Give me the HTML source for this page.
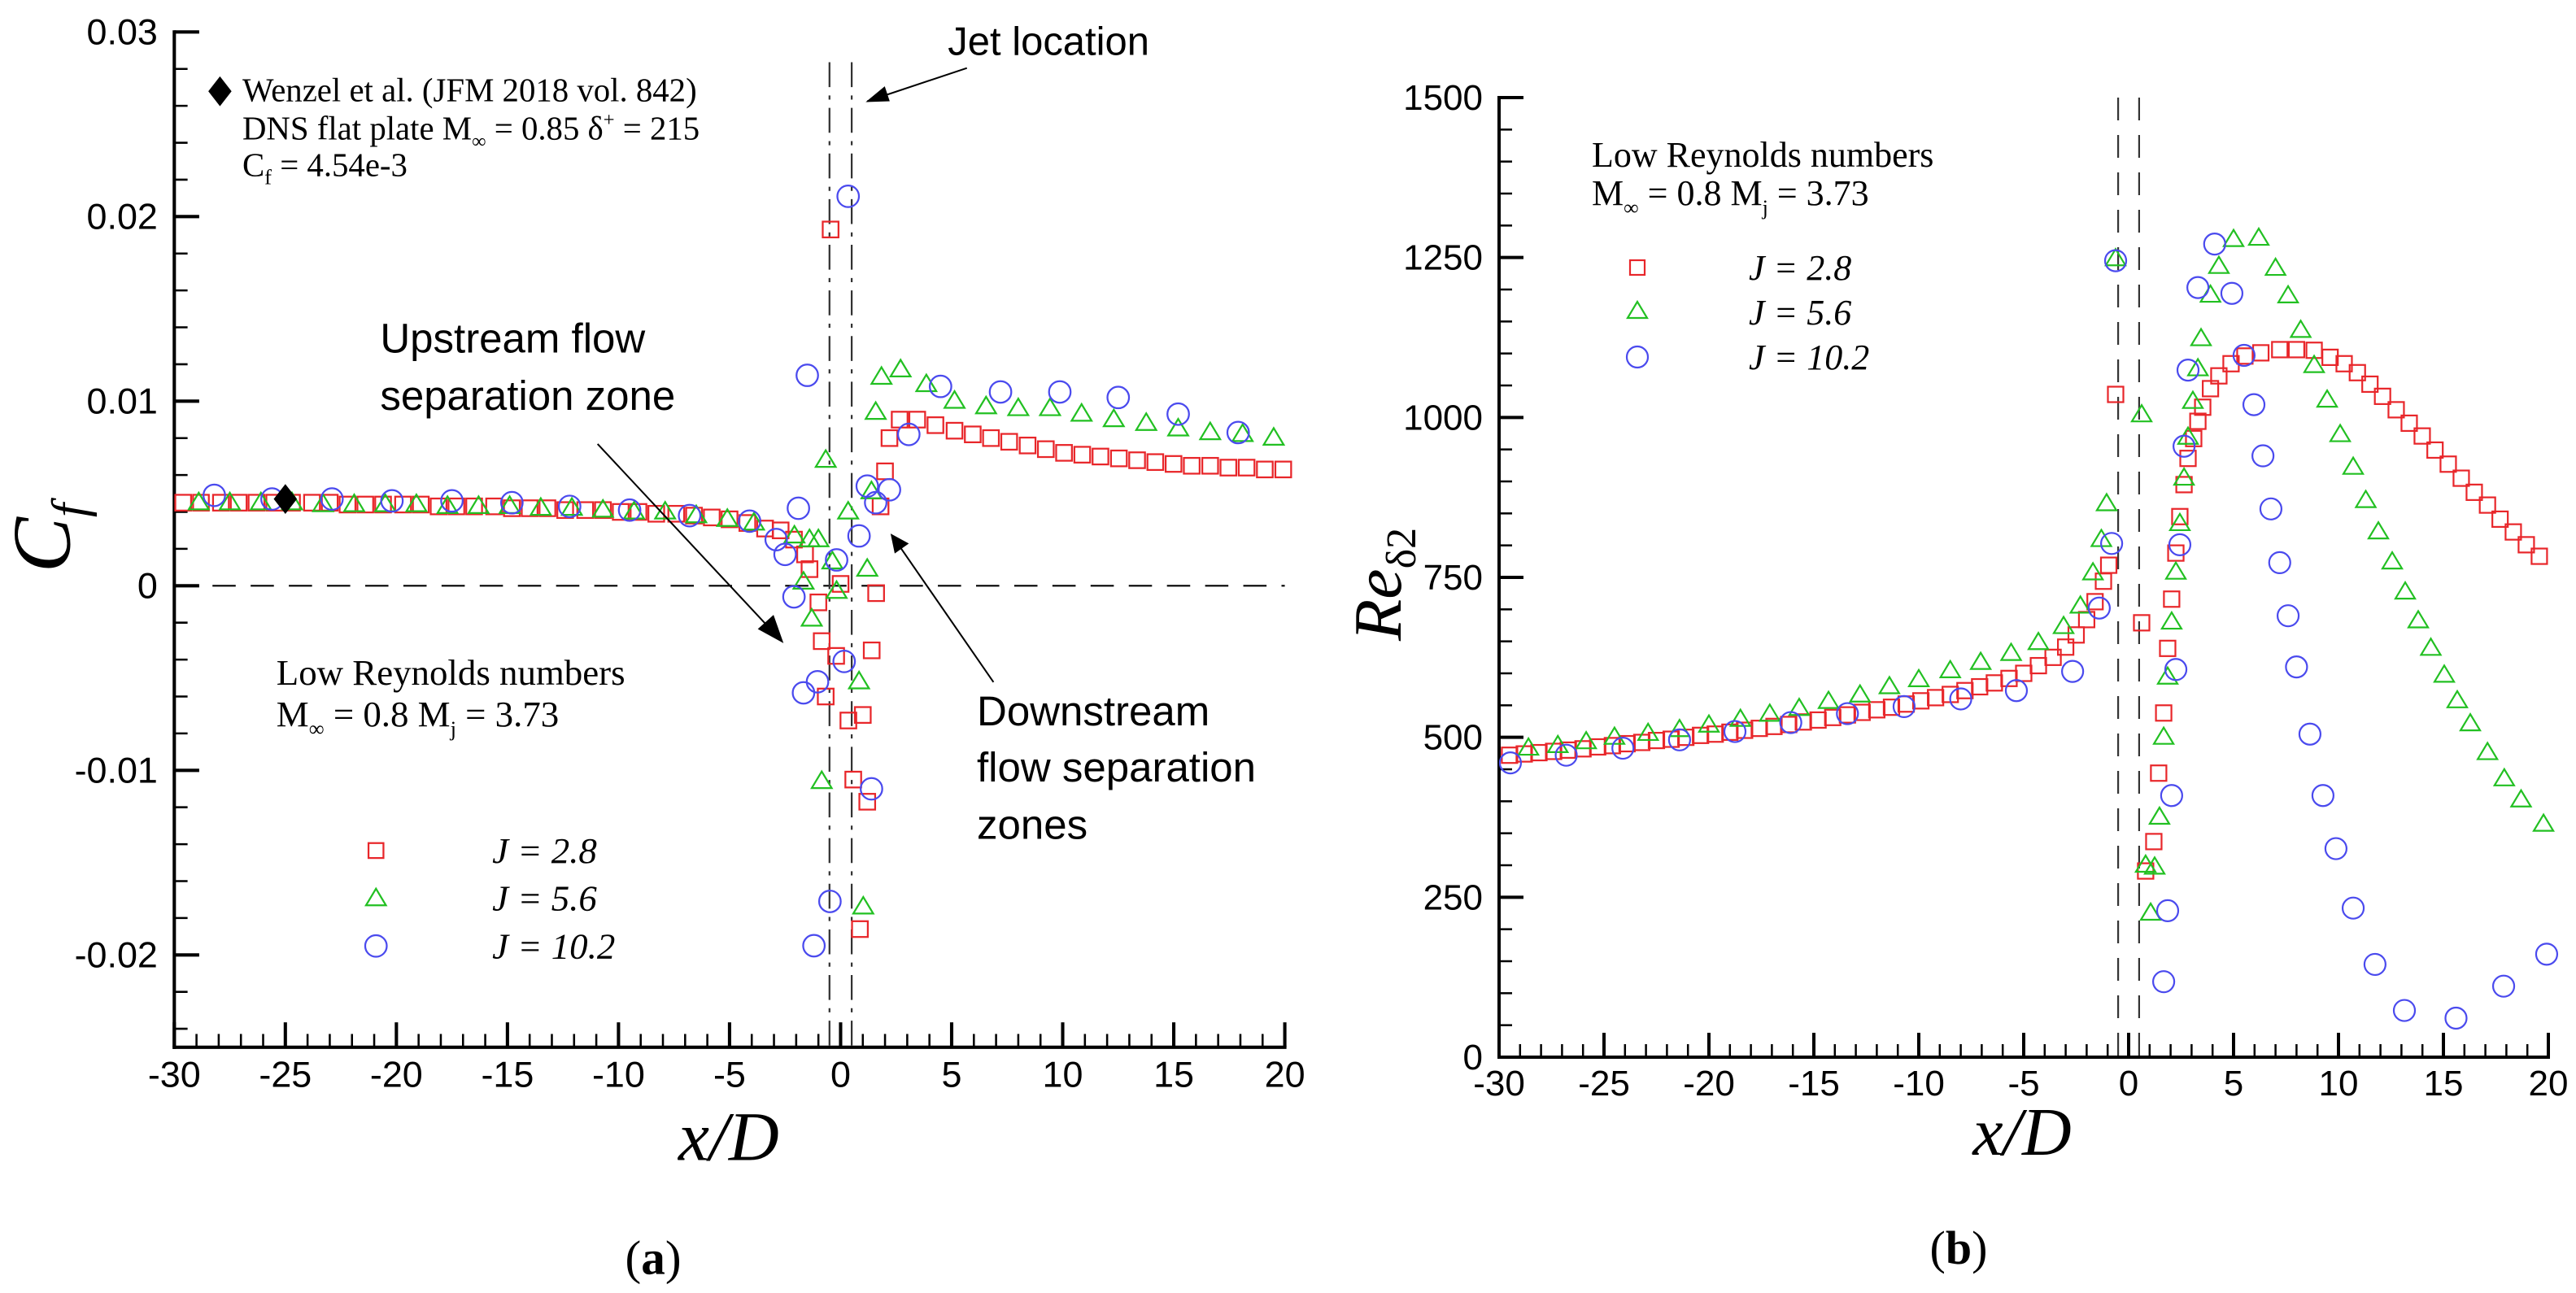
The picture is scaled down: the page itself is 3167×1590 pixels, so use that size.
<!DOCTYPE html>
<html><head><meta charset="utf-8"><style>
html,body{margin:0;padding:0;background:#fff;}
svg{display:block;}
.tk{font-family:"Liberation Sans",Arial,sans-serif;font-size:44px;fill:#000;}
.tm{font-family:"Liberation Serif","Times New Roman",serif;fill:#000;}
.ar{font-family:"Liberation Sans",Arial,sans-serif;fill:#000;}
</style></head><body>
<svg id="fig" style="position:absolute;left:0;top:0" width="3167" height="1590" viewBox="0 0 3103.7 1558.2" xmlns="http://www.w3.org/2000/svg">
<g id="pa"></g>
<g>
<polygon points="265,92 279,110 265,128 251,110" fill="#000"/>
<text class="tm" x="292" y="122" font-size="40">Wenzel et al. (JFM 2018 vol. 842)</text>
<text class="tm" x="292" y="168" font-size="40">DNS flat plate M<tspan font-size="24" dy="10">∞</tspan><tspan dy="-10"> = 0.85 δ</tspan><tspan font-size="24" dy="-16">+</tspan><tspan dy="16"> = 215</tspan></text>
<text class="tm" x="292" y="212" font-size="40">C<tspan font-size="26" dy="10">f</tspan><tspan dy="-10"> = 4.54e-3</tspan></text>
<text class="ar" x="1142" y="66" font-size="48">Jet location</text>
<line x1="1165" y1="82" x2="1045" y2="122" stroke="#000" stroke-width="2"/>
<polygon points="1043,123 1066,104 1072,122" fill="#000"/>
<text class="ar" x="458" y="425" font-size="50">Upstream flow</text>
<text class="ar" x="458" y="494" font-size="50">separation zone</text>
<line x1="720" y1="535" x2="930" y2="760" stroke="#000" stroke-width="2"/>
<polygon points="944,775 913,758 932,741" fill="#000"/>
<text class="ar" x="1177" y="874" font-size="50">Downstream</text>
<text class="ar" x="1177" y="942" font-size="50">flow separation</text>
<text class="ar" x="1177" y="1011" font-size="50">zones</text>
<line x1="1197" y1="822" x2="1085" y2="660" stroke="#000" stroke-width="2"/>
<polygon points="1073,643 1095,655 1078,667" fill="#000"/>
<text class="tm" x="333" y="825" font-size="44">Low Reynolds numbers</text>
<text class="tm" x="333" y="875" font-size="44">M<tspan font-size="26" dy="12">∞</tspan><tspan dy="-12"> = 0.8 M</tspan><tspan font-size="26" dy="12">j</tspan><tspan dy="-12"> = 3.73</tspan></text>
<rect x="444" y="1016" width="18" height="18" fill="none" stroke="#e8262a" stroke-width="2.2"/>
<polygon points="453,1071 441,1091 465,1091" fill="none" stroke="#22c022" stroke-width="2.2"/>
<circle cx="453" cy="1140" r="13" fill="none" stroke="#4a4aee" stroke-width="2.2"/>
<text class="tm" x="593" y="1040" font-size="44" font-style="italic">J = 2.8</text>
<text class="tm" x="593" y="1097" font-size="44" font-style="italic">J = 5.6</text>
<text class="tm" x="593" y="1155" font-size="44" font-style="italic">J = 10.2</text>
<text class="tm" font-size="100" font-style="italic" transform="translate(84,690) rotate(-90)">C<tspan font-size="60" dy="20">f</tspan></text>
<text class="tm" x="878" y="1398" font-size="84" font-style="italic" text-anchor="middle">x/D</text>
<text class="tm" x="787" y="1535" font-size="58" text-anchor="middle">(<tspan font-weight="bold">a</tspan>)</text>
</g>
</svg>
<svg id="figb" style="position:absolute;left:0;top:0" width="3167" height="1590" xmlns="http://www.w3.org/2000/svg">
<g id="pb" transform="translate(1600,0)"></g>
<g transform="translate(1600,2)">
<text class="tm" x="357" y="203" font-size="44">Low Reynolds numbers</text>
<text class="tm" x="357" y="250" font-size="44">M<tspan font-size="26" dy="12">∞</tspan><tspan dy="-12"> = 0.8 M</tspan><tspan font-size="26" dy="12">j</tspan><tspan dy="-12"> = 3.73</tspan></text>
<rect x="404" y="318" width="18" height="18" fill="none" stroke="#e8262a" stroke-width="2.2"/>
<polygon points="413,369 401,389 425,389" fill="none" stroke="#22c022" stroke-width="2.2"/>
<circle cx="413" cy="437" r="13" fill="none" stroke="#4a4aee" stroke-width="2.2"/>
<text class="tm" x="550" y="342" font-size="44" font-style="italic">J = 2.8</text>
<text class="tm" x="550" y="397" font-size="44" font-style="italic">J = 5.6</text>
<text class="tm" x="550" y="452" font-size="44" font-style="italic">J = 10.2</text>
<text class="tm" font-size="84" font-style="italic" transform="translate(122,786) rotate(-90)">Re<tspan font-size="52" font-style="normal" dy="18">δ2</tspan></text>
<text class="tm" x="886" y="1418" font-size="84" font-style="italic" text-anchor="middle">x/D</text>
<text class="tm" x="808" y="1552" font-size="58" text-anchor="middle">(<tspan font-weight="bold">b</tspan>)</text>
</g>
</svg>
<script>
// ---------- Panel (a): Cf data ----------
const aRedX=[-29.6,-28.8,-27.9,-27.1,-26.3,-25.5,-24.7,-23.8,-23.0,-22.2,-21.4,-20.6,-19.7,-18.9,-18.1,-17.3,-16.5,-15.6,-14.8,-14.0,-13.2,-12.4,-11.5,-10.7,-9.9,-9.1,-8.3,-7.4,-6.6,-5.8,-5.0,-4.2,-3.4,-2.7,-2.1,-1.6,-1.4,-1.0,-0.85,-0.67,-0.45,-0.2,0.0,0.35,0.57,0.87,1.0,1.2,1.4,1.6,1.8,2.0,2.2,2.66,3.45,4.27,5.13,5.95,6.77,7.59,8.42,9.24,10.06,10.88,11.7,12.53,13.35,14.17,14.99,15.81,16.64,17.46,18.28,19.1,19.93];
const aRedY=[.0045,.0045,.0045,.0045,.0045,.0045,.0045,.0045,.0045,.0044,.0044,.0044,.0044,.0044,.0043,.0043,.0043,.0043,.0042,.0042,.0042,.0041,.0041,.0041,.0040,.0040,.0039,.0039,.0038,.0037,.0036,.0034,.0031,.0030,.0025,.0017,.0009,-.0009,-.0030,-.0060,.0193,-.0038,.0001,-.0073,-.0105,-.0186,-.0070,-.0117,-.0035,-.0004,.0043,.0062,.0080,.0090,.0090,.0087,.0084,.0082,.0080,.0078,.0076,.0074,.0072,.0071,.0070,.0069,.0068,.0067,.0066,.0065,.0065,.0064,.0064,.0063,.0063];
const aGreenX=[-28.9,-27.5,-26.1,-24.7,-23.3,-21.9,-20.5,-19.1,-17.7,-16.3,-14.9,-13.5,-12.1,-10.7,-9.3,-7.9,-6.5,-5.1,-3.9,-2.08,-1.4,-1.0,-1.67,-1.3,-0.67,-0.85,-0.37,-0.18,0.34,0.83,1.02,1.2,1.58,1.39,1.84,2.7,3.86,5.13,6.55,8.0,9.43,10.85,12.3,13.76,15.2,16.64,18.1,19.5];
const aGreenY=[.0045,.0045,.0045,.0045,.0044,.0044,.0044,.0044,.0043,.0043,.0043,.0042,.0042,.0041,.0040,.0040,.0038,.0036,.0034,.0027,.0025,.0025,.0002,-.0018,.0068,-.0106,.0013,-.0003,.0040,-.0052,-.0174,.0009,.0094,.0051,.0113,.0117,.0109,.0100,.0097,.0096,.0096,.0093,.0090,.0088,.0085,.0083,.0082,.0080];
const aBlueX=[-28.2,-25.6,-22.9,-20.2,-17.5,-14.8,-12.2,-9.5,-6.8,-4.1,-2.9,-2.5,-1.9,-1.5,-2.1,-1.67,-1.04,-1.2,-0.48,-0.18,0.16,0.34,0.83,1.2,1.58,1.39,2.2,3.07,4.5,7.2,9.87,12.5,15.2,17.9];
const aBlueY=[.0049,.0047,.0047,.0046,.0046,.0045,.0043,.0041,.0038,.0035,.0025,.0017,.0042,.0114,-.0006,-.0058,-.0052,-.0195,-.0171,.0014,-.0041,.0211,.0027,.0054,.0045,-.0110,.0052,.0082,.0108,.0105,.0105,.0102,.0093,.0083];
const aRefX=[-25];
const aRefY=[.0047];
const aXTicks=[-30,-25,-20,-15,-10,-5,0,5,10,15,20];
const aYTicks=[-0.02,-0.01,0,0.01,0.02,0.03];
const aYTickLabels=["-0.02","-0.01","0","0.01","0.02","0.03"];

// ---------- Panel (b): Re data ----------
const bRedX=[-29.5,-28.8,-28.1,-27.4,-26.7,-26.0,-25.3,-24.6,-23.9,-23.2,-22.5,-21.8,-21.1,-20.4,-19.7,-19.0,-18.3,-17.6,-16.9,-16.2,-15.5,-14.8,-14.1,-13.4,-12.7,-12.0,-11.3,-10.6,-9.9,-9.2,-8.5,-7.8,-7.1,-6.4,-5.7,-5.0,-4.3,-3.6,-3.0,-2.5,-2.0,-1.6,-1.2,-0.95,-0.62,0.62,0.81,1.2,1.43,1.67,1.86,2.05,2.25,2.44,2.64,2.83,3.1,3.3,3.53,3.9,4.3,4.88,5.54,6.3,7.2,8.0,8.84,9.6,10.27,10.9,11.5,12.1,12.75,13.37,13.99,14.6,15.23,15.85,16.47,17.1,17.7,18.33,18.95,19.57];
const bRedY=[472,474,476,478,480,482,485,487,490,492,495,497,500,503,505,508,511,514,517,520,524,527,531,535,539,543,547,552,557,562,567,573,579,585,592,600,612,625,641,660,684,712,744,769,1036,679,291,337,444,538,639,716,788,845,895,936,967,994,1016,1045,1065,1084,1096,1101,1106,1106,1105,1094,1084,1070,1052,1033,1012,991,971,949,927,905,883,863,841,821,801,783];
const bGreenX=[-28.6,-27.2,-25.85,-24.5,-22.9,-21.4,-20.0,-18.5,-17.1,-15.7,-14.3,-12.8,-11.4,-10.0,-8.5,-7.05,-5.6,-4.3,-3.1,-2.3,-1.7,-1.3,-1.05,-0.62,0.62,0.81,1.05,1.24,1.47,1.67,1.86,2.05,2.25,2.44,2.64,2.83,3.06,3.3,3.45,3.9,4.3,5.0,6.2,7.0,7.6,8.2,8.84,9.46,10.08,10.7,11.3,11.9,12.56,13.18,13.8,14.4,15.04,15.66,16.28,17.1,17.9,18.7,19.77];
const bGreenY=[483,487,493,500,506,512,519,528,536,545,556,566,579,590,604,617,631,648,673,705,757,809,865,1248,1004,300,225,297,375,500,594,680,758,834,905,969,1025,1076,1123,1191,1236,1278,1280,1233,1190,1136,1081,1027,973,922,870,821,774,727,682,639,597,557,521,476,435,402,364];
const bBlueX=[-29.46,-26.8,-24.1,-21.4,-18.76,-16.1,-13.4,-10.7,-8.0,-5.35,-2.67,-1.4,-0.81,-0.62,1.67,1.86,2.05,2.25,2.44,2.64,2.83,3.3,4.1,4.92,5.5,5.97,6.4,6.78,7.2,7.6,8.0,8.64,9.26,9.88,10.7,11.74,13.14,15.6,17.87,19.92];
const bBlueY=[460,472,483,496,509,523,537,548,560,573,603,702,803,1245,118,229,409,606,801,955,1074,1203,1271,1194,1097,1020,940,857,773,690,610,505,409,326,233,145,73,61,111,161];
const bXTicks=[-30,-25,-20,-15,-10,-5,0,5,10,15,20];
const bYTicks=[0,250,500,750,1000,1250,1500];

const NS="http://www.w3.org/2000/svg";
function mk(parent,tag,attrs,text){const e=document.createElementNS(NS,tag);for(const k in attrs)e.setAttribute(k,attrs[k]);if(text!==undefined)e.textContent=text;parent.appendChild(e);return e;}

// axis functions
const ax=v=>210+(v+30)*(1338/50);
const ay=v=>705.9-v*22245;
const bx=v=>243+(v+30)*(1290/50);
const by=v=>1300-v*(1180/1500);

function drawSquare(g,cx,cy){const s=19;const e=mk(g,'rect',{x:cx-s/2,y:cy-s/2,width:s,height:s,fill:'none',stroke:'#e8262a','stroke-width':2.2});

}
function drawTri(g,cx,cy){const w=24,h=20;const e=mk(g,'polygon',{points:`${cx},${cy-h*0.6} ${cx-w/2},${cy+h*0.4} ${cx+w/2},${cy+h*0.4}`,fill:'none',stroke:'#22c022','stroke-width':2.2});

}
function drawCirc(g,cx,cy){const e=mk(g,'circle',{cx:cx,cy:cy,r:13,fill:'none',stroke:'#4a4aee','stroke-width':2.2});

}

function axes(g,X,Y,xmin,xmax,ymin,ymax,xt,yt,ylabels,yminorStep,xLabelY){
  for(let v=xmin;v<=xmax+1e-9;v+=1){const major=Math.abs(v%5)<1e-9;
    const t=mk(g,'line',{x1:X(v),x2:X(v),y1:Y(ymin),y2:Y(ymin)-(major?30:16),stroke:'#000','stroke-width':major?4:2.5});
    
    }
  const i0=Math.ceil(ymin/yminorStep-1e-6), i1=Math.floor(ymax/yminorStep+1e-6);
  for(let i=i0;i<=i1;i++){const v=i*yminorStep;const major=yt.some(t=>Math.abs(t-v)<yminorStep/10);
    const t=mk(g,'line',{x1:X(xmin),x2:X(xmin)+(major?30:16),y1:Y(v),y2:Y(v),stroke:'#000','stroke-width':major?4:2.5});
    
    }
  const xa=mk(g,'line',{x1:X(xmin)-2,x2:X(xmax)+2,y1:Y(ymin),y2:Y(ymin),stroke:'#000','stroke-width':4});
  
  
  const ya=mk(g,'line',{x1:X(xmin),x2:X(xmin),y1:Y(ymax)-2,y2:Y(ymin)+2,stroke:'#000','stroke-width':4});
  
  
  xt.forEach(v=>{const t=mk(g,'text',{x:X(v),y:xLabelY,'text-anchor':'middle',class:'tk'},String(v));
    
    });
  yt.forEach((v,i)=>{const t=mk(g,'text',{x:X(xmin)-20,y:Y(v)+15,'text-anchor':'end',class:'tk'},ylabels[i]);
    
    });
}

// ---------- draw panel a ----------
const A=document.getElementById('pa');
axes(A,ax,ay,-30,20,-0.025,0.03,aXTicks,aYTicks,aYTickLabels,0.002,1310);
let z=mk(A,'line',{x1:ax(-30),x2:ax(20),y1:ay(0),y2:ay(0),stroke:'#000','stroke-width':2,'stroke-dasharray':'28,18'});


[-0.5,0.5].forEach(v=>{const l=mk(A,'line',{x1:ax(v),x2:ax(v),y1:75,y2:ay(-0.025),stroke:'#333','stroke-width':2.2,'stroke-dasharray':'30,10,5,10'});
  
  });
aRedX.forEach((x,i)=>drawSquare(A,ax(x),ay(aRedY[i])));
aGreenX.forEach((x,i)=>drawTri(A,ax(x),ay(aGreenY[i])));
aBlueX.forEach((x,i)=>drawCirc(A,ax(x),ay(aBlueY[i])));
aRefX.forEach((x,i)=>{const d=mk(A,'polygon',{points:`${ax(x)},${ay(aRefY[i])-18} ${ax(x)+14},${ay(aRefY[i])} ${ax(x)},${ay(aRefY[i])+18} ${ax(x)-14},${ay(aRefY[i])}`,fill:'#000'});
  
  });

// ---------- draw panel b ----------
const B=document.getElementById('pb');
axes(B,bx,by,-30,20,0,1500,bXTicks,bYTicks,bYTicks.map(String),50,1347);
[-0.5,0.5].forEach(v=>{const l=mk(B,'line',{x1:bx(v),x2:bx(v),y1:120,y2:by(0),stroke:'#333','stroke-width':2.2,'stroke-dasharray':'28,18'});
  
  });
bRedX.forEach((x,i)=>drawSquare(B,bx(x),by(bRedY[i])));
bGreenX.forEach((x,i)=>drawTri(B,bx(x),by(bGreenY[i])));
bBlueX.forEach((x,i)=>drawCirc(B,bx(x),by(bBlueY[i])));
</script>
</body></html>
